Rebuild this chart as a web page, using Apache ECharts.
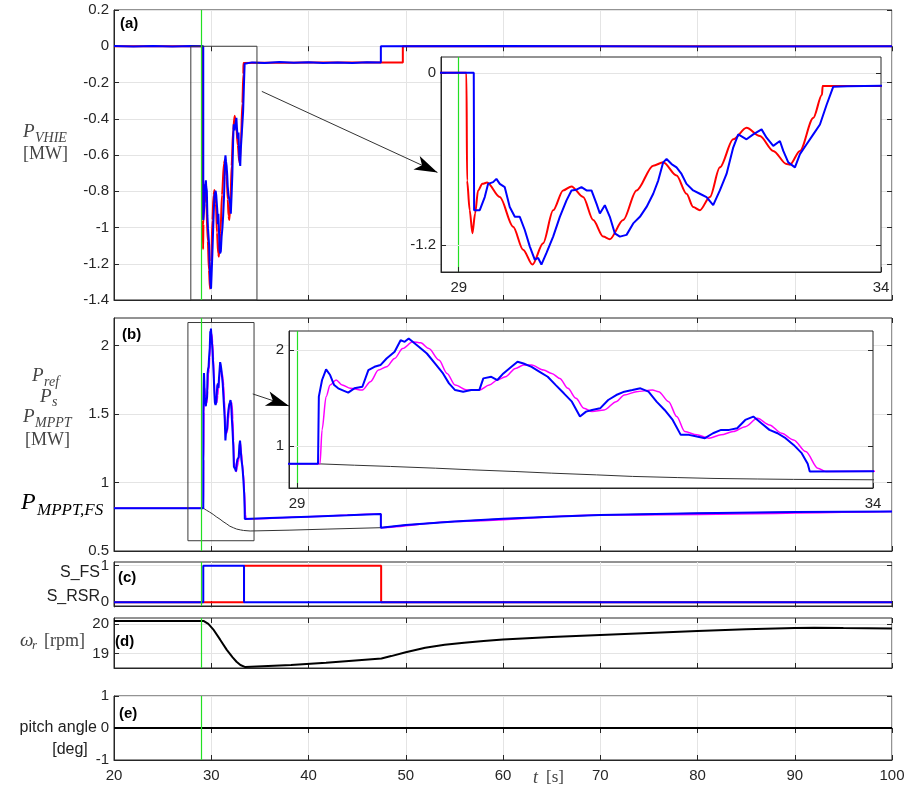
<!DOCTYPE html>
<html>
<head>
<meta charset="utf-8">
<script src="https://cdn.jsdelivr.net/npm/echarts@6/dist/echarts.min.js"></script>
<style>
html, body { margin: 0; padding: 0; background: #fff; }
#chart { width: 910px; height: 792px; }
</style>
</head>
<body>
<div id="chart"></div>
<script>
// ---- time axis ----
const timeTicks = [20, 30, 40, 50, 60, 70, 80, 90, 100];
const eventTime = 29;

// ---- (a) P_VHIE [MW] ----
const vhieRedT = [20, 29.091, 29.099, 29.130, 29.162, 29.194, 29.229, 29.280, 29.336, 29.486, 29.644, 29.762, 29.873, 29.999, 30.118, 30.236, 30.335, 30.473, 30.592, 30.710, 30.789, 30.947, 31.105, 31.303, 31.421, 31.579, 31.697, 31.776, 31.855, 31.974, 32.092, 32.250, 32.408, 32.566, 32.724, 32.882, 32.922, 33.040, 33.198, 33.301, 33.309, 36, 40, 44, 47.44, 49.7, 49.7, 100];
const vhieRedV = [0, 0, -0.752, -0.959, -1.120, -0.982, -0.821, -0.775, -0.766, -0.867, -1.074, -1.234, -1.338, -1.189, -0.959, -0.821, -0.793, -0.867, -1.028, -1.143, -1.161, -1.028, -0.821, -0.648, -0.625, -0.717, -0.844, -0.936, -0.959, -0.867, -0.660, -0.464, -0.384, -0.441, -0.545, -0.637, -0.641, -0.545, -0.315, -0.154, -0.092, -0.091, -0.090, -0.090, -0.090, -0.090, 0, 0];
const vhieBlueT = [20, 22, 24, 26, 28, 29.178, 29.182, 29.249, 29.308, 29.348, 29.407, 29.446, 29.486, 29.545, 29.604, 29.664, 29.723, 29.782, 29.841, 29.900, 29.940, 29.979, 30.039, 30.118, 30.197, 30.276, 30.335, 30.394, 30.453, 30.513, 30.572, 30.631, 30.671, 30.730, 30.789, 30.848, 30.908, 30.987, 31.066, 31.145, 31.224, 31.303, 31.362, 31.421, 31.461, 31.520, 31.579, 31.638, 31.697, 31.776, 31.855, 31.934, 32.013, 32.092, 32.171, 32.250, 32.310, 32.408, 32.487, 32.586, 32.645, 32.724, 32.803, 32.843, 32.902, 32.981, 33.040, 33.119, 33.198, 33.277, 33.356, 33.435, 33.6, 34.2, 35.5, 37, 38.5, 40, 41.5, 43, 44.5, 46, 47.44, 47.44, 60, 80, 100];
const vhieBlueV = [0.002, -0.002, 0.001, -0.001, 0.002, 0, -0.959, -0.959, -0.867, -0.775, -0.763, -0.740, -0.775, -0.798, -0.936, -1.005, -1.005, -1.097, -1.211, -1.303, -1.292, -1.338, -1.257, -1.143, -1.005, -0.890, -0.821, -0.816, -0.798, -0.821, -0.821, -0.913, -0.982, -0.924, -1.005, -1.120, -1.143, -1.131, -1.051, -1.005, -0.936, -0.844, -0.752, -0.625, -0.602, -0.637, -0.660, -0.706, -0.775, -0.821, -0.844, -0.867, -0.924, -0.821, -0.706, -0.522, -0.430, -0.464, -0.430, -0.395, -0.453, -0.510, -0.476, -0.545, -0.625, -0.660, -0.568, -0.499, -0.430, -0.361, -0.223, -0.097, -0.094, -0.089, -0.092, -0.087, -0.091, -0.088, -0.093, -0.089, -0.092, -0.088, -0.090, 0, 0.001, -0.001, 0];

// ---- (b) P_ref, P_s, P_MPPT [MW] ----
const psT = [20, 29.182, 29.189, 29.217, 29.252, 29.287, 29.322, 29.357, 29.392, 29.444, 29.497, 29.567, 29.619, 29.672, 29.724, 29.777, 29.847, 29.899, 29.934, 29.969, 30.004, 30.057, 30.127, 30.197, 30.267, 30.319, 30.372, 30.442, 30.512, 30.582, 30.617, 30.686, 30.739, 30.791, 30.861, 30.914, 30.966, 31.036, 31.106, 31.176, 31.246, 31.316, 31.386, 31.456, 31.509, 31.561, 31.631, 31.701, 31.771, 31.841, 31.911, 31.981, 32.051, 32.121, 32.191, 32.261, 32.331, 32.401, 32.471, 32.541, 32.611, 32.681, 32.751, 32.821, 32.891, 32.961, 33.031, 33.101, 33.171, 33.241, 33.311, 33.381, 33.433, 33.451, 36, 40, 44, 47.44, 47.44, 50, 55, 60, 65, 70, 80, 90, 100];
const psV = [0.8125, 0.8125, 1.514, 1.688, 1.799, 1.740, 1.635, 1.601, 1.583, 1.556, 1.601, 1.618, 1.792, 1.826, 1.844, 1.913, 1.983, 2.104, 2.087, 2.122, 2.087, 2.035, 1.965, 1.861, 1.757, 1.653, 1.583, 1.566, 1.583, 1.583, 1.705, 1.722, 1.688, 1.757, 1.826, 1.878, 1.861, 1.826, 1.774, 1.722, 1.635, 1.549, 1.462, 1.306, 1.358, 1.375, 1.392, 1.479, 1.531, 1.566, 1.583, 1.601, 1.566, 1.462, 1.375, 1.271, 1.115, 1.115, 1.097, 1.080, 1.132, 1.167, 1.167, 1.184, 1.271, 1.306, 1.236, 1.167, 1.132, 1.080, 1.010, 0.924, 0.8125, 0.733, 0.740, 0.750, 0.760, 0.770, 0.670, 0.690, 0.715, 0.735, 0.750, 0.762, 0.776, 0.784, 0.788];
const prefT = [20, 29.199, 29.217, 29.252, 29.287, 29.339, 29.392, 29.462, 29.567, 29.637, 29.707, 29.777, 29.847, 29.917, 30.004, 30.074, 30.144, 30.232, 30.302, 30.372, 30.477, 30.582, 30.669, 30.739, 30.809, 30.896, 30.966, 31.036, 31.141, 31.211, 31.281, 31.351, 31.421, 31.491, 31.561, 31.666, 31.771, 31.841, 31.946, 32.086, 32.139, 32.226, 32.296, 32.366, 32.471, 32.576, 32.681, 32.786, 32.891, 32.996, 33.101, 33.206, 33.311, 33.416, 33.521, 33.591, 40, 47.44, 47.44, 55, 70, 100];
const prefV = [0.8125, 0.8125, 1.167, 1.514, 1.635, 1.688, 1.635, 1.601, 1.583, 1.670, 1.792, 1.826, 1.913, 2.017, 2.087, 2.076, 2.017, 1.896, 1.757, 1.635, 1.583, 1.583, 1.635, 1.688, 1.722, 1.809, 1.844, 1.844, 1.792, 1.757, 1.705, 1.601, 1.497, 1.392, 1.358, 1.375, 1.462, 1.531, 1.566, 1.583, 1.566, 1.462, 1.306, 1.149, 1.115, 1.080, 1.115, 1.149, 1.201, 1.288, 1.219, 1.132, 1.0625, 0.941, 0.767, 0.733, 0.750, 0.770, 0.670, 0.715, 0.762, 0.788];
const mpptT = [20, 29.182, 29.5, 29.812, 30.2, 30.512, 30.9, 31.211, 31.6, 31.911, 32.3, 32.611, 33.0, 33.311, 34.0, 38, 42, 47.44, 50, 52.5, 55, 57.5, 60, 65, 70, 75, 80, 90, 100];
const mpptV = [0.8125, 0.8125, 0.798, 0.785, 0.767, 0.750, 0.732, 0.715, 0.697, 0.681, 0.669, 0.660, 0.654, 0.650, 0.646, 0.652, 0.660, 0.670, 0.690, 0.703, 0.715, 0.726, 0.735, 0.750, 0.762, 0.770, 0.776, 0.784, 0.788];

// ---- (c) switching signals ----
const sFsT = [20, 29.18, 29.18, 33.37, 33.37, 100];
const sFsV = [0, 0, 1, 1, 0, 0];
const sRsrT = [20, 33.37, 33.37, 47.47, 47.47, 100];
const sRsrV = [0, 0, 1, 1, 0, 0];

// ---- (d) rotor speed [rpm] ----
const wrT = [20, 29.2, 29.7, 30.2, 30.9, 31.6, 32.2, 32.6, 33.0, 33.5, 38.2, 41.8, 47.5, 48.5, 50, 52, 54, 56, 58, 60, 65, 70, 75, 80, 85, 90, 92, 95, 100];
const wrV = [20.1, 20.1, 20.0, 19.82, 19.48, 19.13, 18.88, 18.73, 18.62, 18.55, 18.62, 18.7, 18.84, 18.92, 19.05, 19.2, 19.3, 19.37, 19.43, 19.48, 19.56, 19.63, 19.7, 19.76, 19.82, 19.86, 19.87, 19.86, 19.85];

// ---- (e) pitch angle [deg] ----
const pitchT = [20, 100];
const pitchV = [0, 0];

// ---- zoom annotations (data coordinates) ----
const boxA = { t: [27.9, 34.7], v: [-1.4, 0] };
const boxB = { t: [27.6, 34.4], v: [0.575, 2.167] };
const arrowA = { from: [35.2, -0.249], to: [53.26, -0.696] };
const arrowB = { from: [34.27, 1.646], to: [38.0, 1.558] };

// ---- styling ----
const AX = '#262626';
const GRIDC = '#e4e4e4';
const GREEN = '#22e022';
const SANS = '"Liberation Sans", Arial, sans-serif';
const SERIF = '"Liberation Serif", "DejaVu Serif", serif';

const zip = (t, v) => t.map((x, i) => [x, v[i]]);
const fmt = v => { const r = Math.round(v * 100) / 100; return r === 0 ? '0' : String(r); };

const grids = [
  { left: 114, top: 10, width: 778, height: 290 },   // (a)
  { left: 114, top: 318, width: 778, height: 233 },  // (b)
  { left: 114, top: 562, width: 778, height: 44 },   // (c)
  { left: 114, top: 618, width: 778, height: 50 },   // (d)
  { left: 114, top: 696, width: 778, height: 64 },   // (e)
  { left: 441, top: 57, width: 440, height: 215 },   // zoom of (a)
  { left: 289, top: 331, width: 584, height: 157 }   // zoom of (b)
].map((g, i) => Object.assign({
  show: true, borderColor: AX, borderWidth: 1,
  backgroundColor: i >= 5 ? '#fff' : 'transparent',
  z: i >= 5 ? 5 : 0
}, g));

const yRanges = [
  { min: -1.4, max: 0.2, ticks: [0.2, 0, -0.2, -0.4, -0.6, -0.8, -1, -1.2, -1.4] },
  { min: 0.5, max: 2.2, ticks: [0.5, 1, 1.5, 2] },
  { min: -0.1, max: 1.1, ticks: [0, 1] },
  { min: 18.52, max: 20.2, ticks: [19, 20] },
  { min: -1, max: 1, ticks: [-1, 0, 1] },
  { min: -1.39, max: 0.11, ticks: [0, -1.2] },
  { min: 0.56, max: 2.2, ticks: [1, 2] }
];

const tickStyle = { show: true, inside: true, length: 5, lineStyle: { color: AX } };

function mainX(gi, labels) {
  return {
    type: 'value', gridIndex: gi, min: 20, max: 100, interval: 10,
    axisLine: { show: true, onZero: false, lineStyle: { color: AX } },
    axisTick: tickStyle,
    axisLabel: { show: labels, color: AX, fontFamily: SANS, fontSize: 15, margin: 8 },
    splitLine: { show: true, lineStyle: { color: GRIDC } }
  };
}
function topX(gi) {
  return {
    type: 'value', gridIndex: gi, position: 'top', min: 20, max: 100, interval: 10,
    axisLine: { show: false }, axisTick: tickStyle, axisLabel: { show: false }, splitLine: { show: false }
  };
}
function yAx(gi, z) {
  const r = yRanges[gi];
  return {
    type: 'value', gridIndex: gi, min: r.min, max: r.max, z: z || 0,
    axisLine: { show: true, onZero: false, lineStyle: { color: AX } },
    axisTick: Object.assign({ customValues: r.ticks }, tickStyle),
    axisLabel: { color: AX, fontFamily: SANS, fontSize: 15, margin: 5, customValues: r.ticks, formatter: fmt },
    splitLine: { show: true, lineStyle: { color: GRIDC } }
  };
}
function rightY(gi, z) {
  const r = yRanges[gi];
  return {
    type: 'value', gridIndex: gi, position: 'right', min: r.min, max: r.max, z: z || 0,
    axisLine: { show: false }, axisTick: Object.assign({ customValues: r.ticks }, tickStyle),
    axisLabel: { show: false }, splitLine: { show: false }
  };
}
function insetX(gi, min, max, ticks) {
  return {
    type: 'value', gridIndex: gi, min, max, z: 6,
    axisLine: { show: true, onZero: false, lineStyle: { color: AX } },
    axisTick: Object.assign({ customValues: ticks }, tickStyle),
    axisLabel: { color: AX, fontFamily: SANS, fontSize: 15, margin: 8, customValues: ticks, formatter: fmt },
    splitLine: { show: false }
  };
}

const xAxis = [mainX(0, false), mainX(1, false), mainX(2, false), mainX(3, false), mainX(4, true),
  insetX(5, 28.79, 34, [29, 34]), insetX(6, 28.93, 34, [29, 34]),
  topX(0), topX(1), topX(2), topX(3), topX(4)];
const yAxis = [yAx(0), yAx(1), yAx(2), yAx(3), yAx(4), yAx(5, 6), yAx(6, 6),
  rightY(0), rightY(1), rightY(2), rightY(3), rightY(4), rightY(5, 6), rightY(6, 6)];

const green = { silent: true, symbol: 'none', animation: false,
  lineStyle: { color: GREEN, width: 1.2, type: 'solid' }, label: { show: false },
  data: [{ xAxis: eventTime }] };

function line(gi, t, v, color, width, extra) {
  return Object.assign({
    type: 'line', xAxisIndex: gi, yAxisIndex: gi, data: zip(t, v),
    showSymbol: false, symbol: 'none', animation: false, silent: true,
    lineStyle: { color, width }, z: gi >= 5 ? 7 : 2
  }, extra || {});
}
const smoothed = { smooth: 0.3, smoothMonotone: 'x' };
function box(gi, b, arrow) {
  const pts = [[b.t[0], b.v[0]], [b.t[1], b.v[0]], [b.t[1], b.v[1]], [b.t[0], b.v[1]], [b.t[0], b.v[0]]];
  return {
    type: 'line', xAxisIndex: gi, yAxisIndex: gi, data: pts, showSymbol: false, symbol: 'none',
    animation: false, silent: true, clip: false, z: 3,
    lineStyle: { color: '#3a3a3a', width: 1 },
    markLine: {
      silent: true, animation: false, symbol: ['none', 'none'],
      lineStyle: { color: '#333', width: 1, type: 'solid' }, label: { show: false },
      data: [[{ coord: arrow.from }, { coord: arrow.to }]]
    }
  };
}

const series = [
  // (a)
  line(0, vhieRedT, vhieRedV, '#ff0000', 2, Object.assign({ markLine: green }, smoothed)),
  line(0, vhieBlueT, vhieBlueV, '#0000ff', 2),
  box(0, boxA, arrowA),
  // (b)
  line(1, mpptT, mpptV, '#333333', 1, { markLine: green }),
  line(1, prefT, prefV, '#ff00ff', 1.5, smoothed),
  line(1, psT, psV, '#0000ff', 2),
  box(1, boxB, arrowB),
  // (c)
  line(2, sRsrT, sRsrV, '#ff0000', 2, { markLine: green }),
  line(2, sFsT, sFsV, '#0000ff', 2),
  // (d)
  line(3, wrT, wrV, '#000000', 2, { markLine: green }),
  // (e)
  line(4, pitchT, pitchV, '#000000', 2, { markLine: green }),
  // zoom of (a)
  line(5, vhieRedT, vhieRedV, '#ff0000', 2, Object.assign({ markLine: green }, smoothed)),
  line(5, vhieBlueT, vhieBlueV, '#0000ff', 2),
  // zoom of (b)
  line(6, mpptT, mpptV, '#333333', 1, { markLine: green }),
  line(6, prefT, prefV, '#ff00ff', 1.5, smoothed),
  line(6, psT, psV, '#0000ff', 2)
];

// ---- text labels ----
function txt(x, y, text, font, fill, align) {
  return { type: 'text', x, y, z: 100, silent: true,
    style: { text, font, fill: fill || '#444', align: align || 'left', textAlign: align || 'left',
      verticalAlign: 'middle', textVerticalAlign: 'middle' } };
}
const it = (s) => 'italic ' + s + 'px ' + SERIF;
const up = (s) => s + 'px ' + SERIF;
const graphic = [
  txt(120, 24, '(a)', 'bold 15px ' + SANS, '#000'),
  txt(122, 335, '(b)', 'bold 15px ' + SANS, '#000'),
  txt(118, 578, '(c)', 'bold 15px ' + SANS, '#000'),
  txt(115, 642, '(d)', 'bold 15px ' + SANS, '#000'),
  txt(119, 714, '(e)', 'bold 15px ' + SANS, '#000'),
  // (a)
  txt(23, 132, 'P', it(19)), txt(35, 138, 'VHIE', it(14)),
  txt(23, 154, '[MW]', up(18)),
  // (b)
  txt(32, 376, 'P', it(19)), txt(44, 382, 'ref', it(14)),
  txt(40, 397, 'P', it(19)), txt(52, 402, 's', it(14)),
  txt(23, 417, 'P', it(19)), txt(35, 423, 'MPPT', it(14)),
  txt(25, 440, '[MW]', up(18)),
  txt(21, 503, 'P', it(24), '#000'), txt(37, 511, 'MPPT,FS', it(17), '#000'),
  // (c)
  txt(100, 573, 'S_FS', '16px ' + SANS, '#222', 'right'),
  txt(100, 597, 'S_RSR', '16px ' + SANS, '#222', 'right'),
  // (d)
  txt(20, 641, 'ω', it(19)), txt(32, 646, 'r', it(13)), txt(44, 641, '[rpm]', up(18)),
  // (e)
  txt(97, 728, 'pitch angle', '16px ' + SANS, '#222', 'right'),
  txt(70, 750, '[deg]', '16px ' + SANS, '#222', 'center'),
  // time label
  txt(533, 778, 't', it(18)), txt(546, 778, '[s]', up(17))
];

const chart = echarts.init(document.getElementById('chart'), null, { renderer: 'canvas' });
chart.setOption({
  animation: false,
  backgroundColor: '#fff',
  grid: grids,
  xAxis, yAxis, series, graphic
});

// Filled arrowheads at the ends of the zoom pointers, placed through the axes' scales.
function arrowHead(gi, a) {
  const s = chart.convertToPixel({ gridIndex: gi }, a.from);
  const p = chart.convertToPixel({ gridIndex: gi }, a.to);
  const dx = p[0] - s[0], dy = p[1] - s[1];
  const len = Math.hypot(dx, dy);
  const ux = dx / len, uy = dy / len, nx = -uy, ny = ux;
  const L = 23, W = 7.5, N = 6;
  const pts = [
    [p[0], p[1]],
    [p[0] - L * ux + W * nx, p[1] - L * uy + W * ny],
    [p[0] - (L - N) * ux, p[1] - (L - N) * uy],
    [p[0] - L * ux - W * nx, p[1] - L * uy - W * ny]
  ];
  return { type: 'polygon', z: 60, silent: true, shape: { points: pts }, style: { fill: '#000' } };
}
chart.setOption({ graphic: graphic.concat([arrowHead(0, arrowA), arrowHead(1, arrowB)]) });
</script>
</body>
</html>
